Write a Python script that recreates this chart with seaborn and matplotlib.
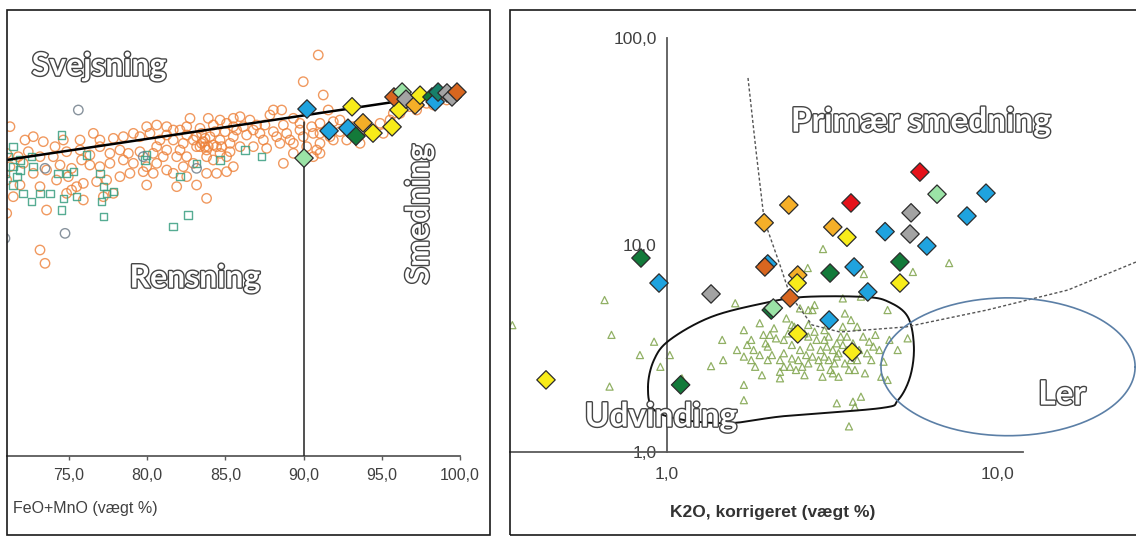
import numpy as np
import pandas as pd
import matplotlib
matplotlib.use("Agg")
import matplotlib.pyplot as plt
import matplotlib.patheffects as pe
from matplotlib.patches import Rectangle
from matplotlib.ticker import FixedLocator, FuncFormatter, NullLocator
import seaborn as sns

# ------------------------------------------------------------------
# Left diagram: FeO+MnO (weight %) against slag index
# ------------------------------------------------------------------
welding_slag = np.array([
    (90.94, 89.91), (89.98, 83.93), (91.26, 80.94), (88.07, 77.58), (88.60, 77.58),
    (91.58, 77.58), (82.74, 75.71), (83.91, 75.71), (84.66, 75.33), (85.51, 75.71),
    (85.94, 76.08), (86.57, 75.33), (89.35, 75.71), (87.53, 74.21), (87.85, 76.46),
    (79.97, 73.84), (80.61, 74.21), (81.25, 73.84), (81.67, 73.09), (82.53, 73.84),
    (83.38, 73.47), (84.23, 74.21), (85.08, 74.59), (86.15, 73.84), (87.00, 74.21),
    (88.71, 74.21), (89.77, 74.59), (90.52, 73.84), (91.05, 74.59), (91.90, 74.96),
    (92.33, 75.33), (71.23, 73.84), (72.72, 71.60), (72.19, 70.85), (73.36, 70.48),
    (74.11, 69.36), (74.64, 70.85), (75.71, 70.85), (76.56, 72.34), (76.98, 70.85),
    (77.84, 71.22), (78.48, 71.60), (79.12, 72.34), (79.54, 71.60), (80.18, 72.34),
    (80.82, 70.85), (81.67, 70.85), (82.31, 70.10), (82.95, 70.85), (83.59, 70.48),
    (84.02, 71.60), (84.66, 70.85), (85.51, 71.60), (86.36, 71.97), (87.21, 72.34),
    (88.07, 72.72), (88.92, 72.34), (89.77, 73.09), (90.62, 72.34), (91.48, 72.72),
    (92.33, 72.72), (93.18, 73.84), (94.03, 73.84), (94.89, 74.59), (95.53, 75.33),
    (96.17, 76.83), (97.23, 77.58), (98.30, 78.70), (99.15, 79.82),
    (71.02, 67.86), (71.76, 67.11), (72.40, 68.23), (73.15, 67.11), (74.00, 67.11),
    (74.85, 68.23), (75.71, 68.61), (76.34, 67.49), (76.98, 69.36), (77.62, 67.86),
    (78.26, 68.61), (78.80, 67.86), (79.54, 68.23), (80.39, 67.86), (81.25, 68.61),
    (82.10, 68.61), (82.53, 67.11), (83.38, 69.36), (83.80, 68.61), (84.44, 69.36),
    (85.30, 68.23), (85.94, 69.36), (86.79, 69.36), (87.64, 68.98), (88.49, 70.10),
    (89.35, 70.10), (90.20, 69.36), (91.05, 70.10), (91.90, 70.85),
    (71.23, 64.87), (72.08, 65.62), (72.72, 63.38), (73.57, 64.12), (74.43, 65.24),
    (75.17, 64.50), (75.81, 66.37), (76.34, 65.24), (76.98, 64.87), (77.62, 65.62),
    (78.48, 66.37), (79.12, 65.62), (79.97, 64.87), (80.61, 65.62), (81.25, 64.12),
    (82.31, 64.87), (82.95, 65.62), (84.23, 66.37), (85.08, 67.11), (85.51, 64.87),
    (88.71, 65.62), (91.05, 67.86), (90.62, 67.11),
    (71.02, 61.88), (71.87, 60.76), (73.15, 60.39), (74.21, 61.88), (74.96, 62.63),
    (75.49, 60.39), (75.92, 61.13), (76.77, 61.51), (77.41, 61.88), (78.26, 62.63),
    (78.90, 63.38), (79.75, 63.75), (80.39, 63.38), (81.67, 63.38), (82.53, 62.63),
    (83.80, 63.38), (84.44, 63.38), (85.08, 63.75),
    (71.44, 58.14), (73.57, 55.15), (74.85, 58.89), (75.17, 59.64), (75.92, 57.40),
    (77.20, 58.14), (77.84, 58.89), (79.97, 60.76), (81.89, 60.39), (83.16, 60.76),
    (83.80, 57.77), (71.02, 54.41), (73.15, 46.19), (73.47, 43.20),
    (83.48, 70.10), (83.70, 71.22), (84.23, 69.73), (83.16, 69.36), (83.91, 69.36),
    (92.76, 70.85), (93.61, 72.34), (94.46, 73.09), (95.10, 72.34), (93.61, 70.10),
    (95.74, 76.83), (96.80, 78.33), (97.87, 79.07), (99.57, 80.57), (89.35, 67.86),
    (90.84, 68.61),
    (83.16, 71.60), (83.48, 72.34), (83.70, 69.36), (84.34, 72.72), (84.76, 69.36),
    (84.98, 72.72), (85.30, 70.10), (85.72, 73.09), (82.53, 71.97), (82.10, 73.09),
    (81.25, 71.97), (80.61, 69.36), (81.03, 67.11), (81.89, 67.11), (83.80, 67.11),
    (84.66, 67.86), (85.51, 73.84), (86.79, 73.09), (87.43, 70.85), (88.28, 71.60),
    (89.13, 70.85), (89.98, 71.60), (91.05, 72.34), (91.69, 71.60),
])

cleaning_slag = np.array([
    (74.53, 71.97), (71.44, 69.36), (71.12, 67.11), (71.87, 66.37), (72.61, 67.11),
    (72.72, 64.87), (71.44, 64.87), (71.87, 64.12), (70.91, 63.38), (71.66, 62.63),
    (71.44, 60.76), (72.08, 58.89), (73.15, 58.89), (72.61, 57.02), (73.79, 58.89),
    (74.32, 63.38), (74.85, 63.38), (75.28, 63.75), (74.64, 57.77), (74.53, 55.15),
    (75.49, 58.14), (76.13, 67.49), (76.98, 63.38), (77.20, 60.39), (77.41, 58.89),
    (77.09, 57.02), (77.84, 59.27), (77.20, 53.66), (79.97, 67.49), (79.86, 66.37),
    (82.10, 62.63), (83.16, 65.62), (84.66, 66.37), (86.25, 68.61), (87.32, 67.11),
    (81.67, 51.42), (82.63, 54.03),
])

other_slag = np.array([
    (75.60, 77.58), (73.47, 64.50), (74.75, 49.92), (70.91, 48.80), (79.75, 67.11),
    (83.16, 64.50),
])

left_trend_x = [71.04, 100.0]
left_trend_y = [66.4, 81.6]
smithing_limit = 90.0
smithing_limit_top = 75.0

left_samples = pd.DataFrame([
    (90.22, 77.8, "blue"), (90.03, 66.8, "lightgreen"), (91.63, 72.9, "blue"),
    (92.84, 73.5, "blue"), (93.35, 71.7, "darkgreen"), (93.10, 78.3, "yellow"),
    (93.80, 74.7, "gold"), (94.44, 72.4, "yellow"), (95.66, 73.8, "yellow"),
    (96.10, 77.6, "yellow"), (95.78, 80.5, "darkorange"), (96.30, 81.6, "lightgreen"),
    (96.55, 80.0, "gray"), (97.13, 78.7, "gold"), (97.45, 80.9, "yellow"),
    (98.21, 80.5, "darkgreen"), (98.41, 79.4, "blue"), (98.60, 81.6, "teal"),
    (99.17, 81.4, "gray"), (99.49, 80.5, "gray"), (99.81, 81.6, "darkorange"),
], columns=["feo_mno", "index", "group"])

left_ticks = [75, 80, 85, 90, 95, 100]

# ------------------------------------------------------------------
# Right diagram: corrected K2O against slag index (log-log)
# ------------------------------------------------------------------
bloomery_slag = np.array([
    (0.647, 5.42), (0.679, 3.68), (0.670, 2.07), (0.828, 2.94), (0.914, 3.41),
    (0.955, 2.58), (1.02, 2.94), (1.11, 2.27), (1.36, 2.60), (1.48, 2.78),
    (1.47, 3.48), (1.61, 5.23), (1.71, 3.88), (1.71, 2.89), (1.71, 2.11),
    (1.71, 1.78), (1.75, 3.29), (1.80, 3.48), (1.83, 3.11), (1.91, 4.19),
    (1.96, 3.68), (1.99, 3.35), (2.05, 3.68), (2.08, 2.94), (2.14, 3.54),
    (2.20, 2.44), (2.20, 2.27), (2.26, 3.00), (2.26, 3.48), (2.30, 4.42),
    (2.39, 3.29), (2.39, 2.83), (2.43, 4.03), (2.53, 4.94), (2.53, 3.11),
    (2.57, 2.58), (2.61, 2.35), (2.68, 4.11), (2.68, 3.61), (2.72, 3.23),
    (2.76, 2.89), (2.76, 4.85), (2.80, 5.13), (2.84, 3.48), (2.92, 3.11),
    (2.92, 2.58), (3.00, 2.89), (3.00, 3.48), (3.00, 3.88), (3.09, 2.78),
    (3.13, 2.49), (3.18, 3.11), (3.18, 2.40), (3.27, 3.35), (3.27, 2.89),
    (3.31, 2.31), (3.36, 3.61), (3.41, 4.03), (3.46, 4.67), (3.46, 2.68),
    (3.51, 3.11), (3.56, 2.49), (3.61, 4.34), (3.71, 1.65), (3.77, 4.03),
    (3.77, 2.78), (3.87, 1.85), (3.98, 2.40), (4.04, 3.00), (4.10, 3.41),
    (4.22, 3.23), (4.40, 3.11), (4.46, 2.31), (4.66, 2.23), (4.66, 4.85),
    (5.36, 3.54), (3.56, 1.33), (3.66, 1.75), (3.27, 1.72), (2.39, 4.11),
    (1.91, 2.94), (2.02, 2.78), (2.46, 2.49), (2.68, 2.68), (2.68, 4.85),
    (3.87, 5.63), (3.41, 5.52), (2.97, 9.56), (2.67, 7.74), (3.95, 7.24),
    (5.56, 7.41), (7.16, 8.18), (0.34, 4.10),
    (1.85, 2.58), (1.94, 2.35), (2.02, 3.23), (2.11, 3.96), (2.20, 2.78),
    (2.33, 3.74), (2.36, 2.58), (2.50, 2.78), (2.61, 3.74), (2.64, 2.94),
    (2.80, 3.81), (2.88, 2.78), (2.96, 2.31), (3.05, 3.23), (3.09, 3.61),
    (3.22, 2.68), (3.31, 3.00), (3.41, 3.29), (3.51, 3.61), (3.61, 2.78),
    (3.66, 3.35), (3.71, 2.49), (3.82, 3.11), (3.93, 3.61), (4.16, 2.78),
    (4.28, 3.68), (4.53, 2.73), (4.72, 3.48), (5.00, 3.11), (2.26, 2.58),
    (1.80, 2.78), (1.63, 3.11),
])

right_samples = pd.DataFrame([
    (5.84, 22.5, "red"), (6.58, 17.6, "lightgreen"), (9.26, 17.8, "blue"),
    (8.11, 13.8, "blue"), (5.49, 14.3, "gray"), (4.58, 11.6, "blue"),
    (5.45, 11.3, "gray"), (6.13, 9.89, "blue"), (2.34, 15.6, "gold"),
    (3.61, 15.96, "red"), (1.97, 12.8, "gold"), (3.18, 12.2, "gold"),
    (3.51, 10.9, "yellow"), (0.834, 8.65, "darkgreen"), (0.946, 6.55, "blue"),
    (1.36, 5.80, "gray"), (2.02, 8.1, "blue"), (1.98, 7.83, "darkorange"),
    (2.49, 7.16, "gold"), (2.48, 6.55, "yellow"), (3.12, 7.32, "darkgreen"),
    (3.69, 7.83, "blue"), (5.08, 8.28, "darkgreen"), (5.08, 6.55, "yellow"),
    (4.06, 5.93, "blue"), (2.36, 5.55, "darkorange"), (2.07, 4.85, "darkgreen"),
    (2.10, 4.96, "lightgreen"), (3.10, 4.34, "blue"), (2.49, 3.72, "yellow"),
    (3.64, 3.04, "yellow"), (0.430, 2.23, "yellow"), (1.10, 2.11, "darkgreen"),
], columns=["k2o", "index", "group"])

# outline of the smelting (Udvinding) field
smelting_field_k2o = [0.876, 0.913, 1.02, 1.36, 1.97, 2.60, 3.98, 4.71, 5.37,
                      5.60, 5.45, 5.01, 4.45, 2.26, 1.56, 1.12, 0.913]
smelting_field_y = [2.06, 2.78, 3.48, 4.49, 5.24, 5.61, 5.61, 5.30, 4.49,
                    3.22, 2.30, 1.78, 1.63, 1.49, 1.38, 1.43, 1.60]

# boundary of the primary smithing field
primary_limit_k2o = [1.76, 1.86, 1.97, 2.20, 2.36, 2.75, 3.34, 5.30, 9.32, 16.4, 26.4]
primary_limit_y = [64.1, 28.8, 13.2, 8.0, 5.73, 4.11, 3.80, 4.02, 4.85, 6.06, 8.28]

# clay (Ler) field: ellipse in log-log space
clay_center = (10.8, 2.58)
clay_half_axes_dex = (0.385, 0.333)

right_ticks_x = [1, 10]
right_ticks_y = [1, 10, 100]

palette = {
    "blue": "#1FA3DF", "lightgreen": "#9BE3A6", "darkgreen": "#137A3A",
    "yellow": "#F8EC1A", "gold": "#F5AF28", "darkorange": "#D8661F",
    "gray": "#A3A3A3", "red": "#E5121A", "teal": "#17806A",
}

W, H = 1136, 536
TICK_GREY = "#404040"
AXIS_GREY = "#5a5a5a"

sns.set_style("white")
plt.rcParams["font.family"] = ["Liberation Sans", "DejaVu Sans"]

fig = plt.figure(figsize=(W / 100, H / 100), dpi=100)
fig.patch.set_facecolor("white")


def frac_box(x0, y0, x1, y1):
    """Convert a pixel box (top-left origin) to figure fractions."""
    return [x0 / W, (H - y1) / H, (x1 - x0) / W, (y1 - y0) / H]


def comma_fmt(v, _pos=None):
    return f"{v:.1f}".replace(".", ",")


def outlined(ax, x, y, s, size, rotation=0, transform=None):
    t = ax.text(x, y, s, fontsize=size, color="white", family="Lato",
                fontweight="bold", ha="center", va="center", rotation=rotation,
                transform=transform if transform is not None else ax.transData,
                zorder=10)
    t.set_path_effects([pe.withStroke(linewidth=2.0, foreground="#454545")])
    return t


def closed_curve(xs, ys, n=24):
    pts = np.column_stack([xs, ys])
    m = len(pts)
    t = np.linspace(0, 1, n, endpoint=False)[:, None]
    segs = []
    for i in range(m):
        p0, p1, p2, p3 = pts[i - 1], pts[i], pts[(i + 1) % m], pts[(i + 2) % m]
        segs.append(0.5 * (2 * p1 + (-p0 + p2) * t
                           + (2 * p0 - 5 * p1 + 4 * p2 - p3) * t ** 2
                           + (-p0 + 3 * p1 - 3 * p2 + p3) * t ** 3))
    out = np.vstack(segs)
    return np.vstack([out, out[:1]])


def open_markers(ax, color, lw):
    coll = ax.collections[-1]
    coll.set_facecolor("none")
    coll.set_edgecolor(color)
    coll.set_linewidth(lw)


# ---------------- left panel ----------------
axL = fig.add_axes(frac_box(7, 10, 490, 456))
axL.set_xlim(71.04, 101.92)
axL.set_ylim(0, 100)

sns.scatterplot(x=welding_slag[:, 0], y=welding_slag[:, 1], ax=axL, marker="o",
                s=46, legend=False, zorder=2)
open_markers(axL, (0.93, 0.50, 0.22, 0.8), 1.0)

sns.scatterplot(x=cleaning_slag[:, 0], y=cleaning_slag[:, 1], ax=axL, marker="s",
                s=30, legend=False, zorder=3)
open_markers(axL, (0.22, 0.62, 0.5, 0.85), 1.0)

sns.scatterplot(x=other_slag[:, 0], y=other_slag[:, 1], ax=axL, marker="o",
                s=46, legend=False, zorder=3)
open_markers(axL, (0.45, 0.5, 0.55, 0.85), 1.0)

sns.lineplot(x=left_trend_x, y=left_trend_y, ax=axL, color="black", lw=1.8,
             zorder=4, legend=False)
axL.plot([smithing_limit, smithing_limit], [0, smithing_limit_top],
         color="#222222", lw=1.1, zorder=4)

sns.scatterplot(data=left_samples, x="feo_mno", y="index", hue="group",
                palette=palette, marker="D", s=88, edgecolor="#2b2b2b",
                linewidth=0.9, legend=False, ax=axL, zorder=6)

for side in ("top", "right", "left"):
    axL.spines[side].set_visible(False)
axL.spines["bottom"].set_bounds(71.04, 100)
axL.spines["bottom"].set_color(AXIS_GREY)
axL.spines["bottom"].set_linewidth(1.3)
axL.xaxis.set_major_locator(FixedLocator(left_ticks))
axL.xaxis.set_major_formatter(FuncFormatter(comma_fmt))
axL.yaxis.set_major_locator(NullLocator())
axL.tick_params(axis="x", direction="out", length=3, width=1, color=AXIS_GREY,
                labelsize=11.5, labelcolor=TICK_GREY, pad=6, bottom=True)
axL.set_xlabel("")
axL.set_ylabel("")
axL.patch.set_alpha(0)

outlined(axL, 99 / W, 1 - 66 / H, "Svejsning", 23, transform=fig.transFigure)
outlined(axL, 195 / W, 1 - 278 / H, "Rensning", 23, transform=fig.transFigure)
outlined(axL, 419 / W, 1 - 214 / H, "Smedning", 23, rotation=90,
         transform=fig.transFigure)

fig.text(13 / W, 1 - 508 / H, "FeO+MnO (vægt %)", fontsize=11.5, color=TICK_GREY,
         ha="left", va="center")

# ---------------- right panel ----------------
axR = fig.add_axes(frac_box(510, 10, 1136, 452))
axR.set_xscale("log")
axR.set_yscale("log")
axR.set_xlim(0.3345, 26.37)
axR.set_ylim(1, 136.5)

sns.scatterplot(x=bloomery_slag[:, 0], y=bloomery_slag[:, 1], ax=axR, marker="^",
                s=26, legend=False, zorder=2)
open_markers(axR, (0.52, 0.66, 0.33, 0.9), 0.9)

lx, ly = np.log10(smelting_field_k2o), np.log10(smelting_field_y)
loop = closed_curve(lx, ly)
axR.plot(10 ** loop[:, 0], 10 ** loop[:, 1], color="#111111", lw=1.4, zorder=3)

axR.plot(primary_limit_k2o, primary_limit_y, color="#555555", lw=1.0,
         linestyle=(0, (2.2, 1.6)), zorder=3)

tt = np.linspace(0, 2 * np.pi, 300)
ex = np.log10(clay_center[0]) + clay_half_axes_dex[0] * np.cos(tt)
ey = np.log10(clay_center[1]) + clay_half_axes_dex[1] * np.sin(tt)
axR.plot(10 ** ex, 10 ** ey, color="#5b7fa6", lw=1.2, zorder=3)

sns.scatterplot(data=right_samples, x="k2o", y="index", hue="group",
                palette=palette, marker="D", s=88, edgecolor="#2b2b2b",
                linewidth=0.9, legend=False, ax=axR, zorder=6)

for side in ("top", "right"):
    axR.spines[side].set_visible(False)
axR.spines["left"].set_position(("data", 1.0))
axR.spines["left"].set_bounds(1, 100)
axR.spines["bottom"].set_bounds(0.3345, 12.0)
for side in ("left", "bottom"):
    axR.spines[side].set_color(AXIS_GREY)
    axR.spines[side].set_linewidth(1.3)
axR.xaxis.set_major_locator(FixedLocator(right_ticks_x))
axR.yaxis.set_major_locator(FixedLocator(right_ticks_y))
axR.xaxis.set_minor_locator(NullLocator())
axR.yaxis.set_minor_locator(NullLocator())
axR.xaxis.set_major_formatter(FuncFormatter(comma_fmt))
axR.yaxis.set_major_formatter(FuncFormatter(comma_fmt))
axR.tick_params(axis="both", direction="out", length=4.5, width=1, color=AXIS_GREY,
                labelsize=12.5, labelcolor=TICK_GREY)
axR.tick_params(axis="x", pad=6)
axR.tick_params(axis="y", pad=3)
axR.set_xlabel("")
axR.set_ylabel("")
axR.patch.set_alpha(0)

outlined(axR, 921 / W, 1 - 122 / H, "Primær smedning", 24, transform=fig.transFigure)
outlined(axR, 661 / W, 1 - 417 / H, "Udvinding", 24, transform=fig.transFigure)
outlined(axR, 1062 / W, 1 - 395 / H, "Ler", 24, transform=fig.transFigure)

fig.text(773 / W, 1 - 512 / H, "K2O, korrigeret (vægt %)", fontsize=12.5,
         fontweight="bold", color="#333333", ha="center", va="center")

# panel frames
for box in (frac_box(7, 10, 490, 535), frac_box(510, 10, 1145, 535)):
    fig.add_artist(Rectangle((box[0], box[1]), box[2], box[3],
                             transform=fig.transFigure, fill=False,
                             ec="#1a1a1a", lw=1.2, zorder=20))

fig.savefig("out.png", dpi=100, facecolor="white")
